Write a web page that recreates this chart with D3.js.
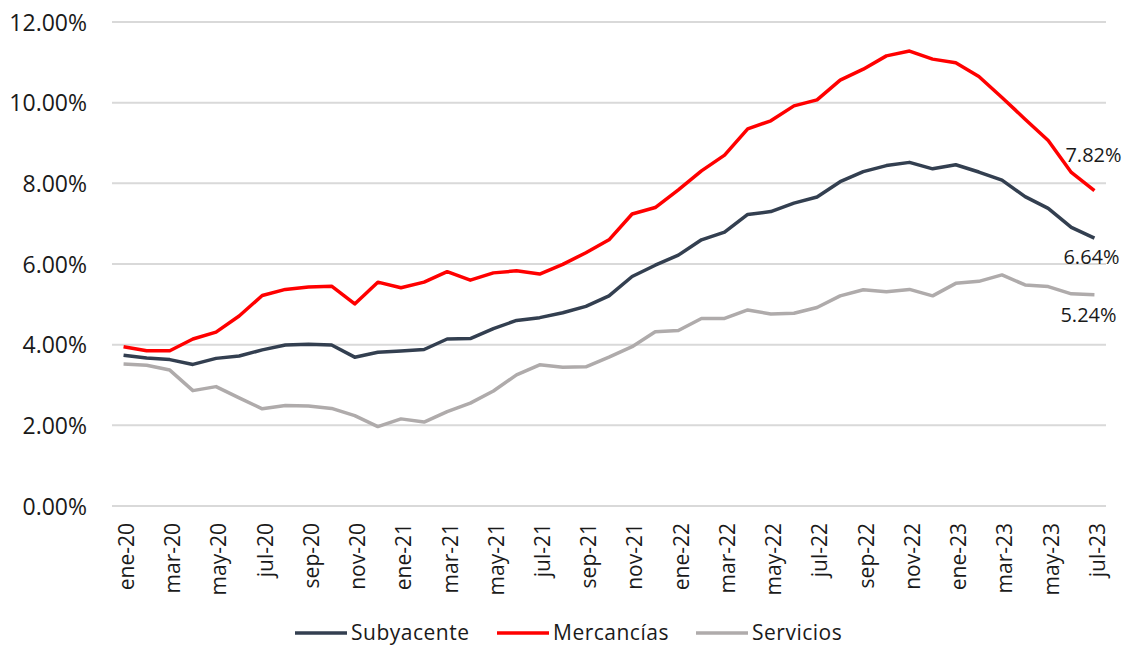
<!DOCTYPE html>
<html><head><meta charset="utf-8">
<script src="https://cdn.jsdelivr.net/npm/d3@7"></script>
<style>body{margin:0;background:#fff;} svg{display:block;font-family:"Open Sans",sans-serif;}</style>
</head><body>
<svg id="c" width="1131" height="645"></svg>
<script>
const months = ["ene","feb","mar","abr","may","jun","jul","ago","sep","oct","nov","dic"];
const categories = [];
for (let y = 20; y <= 23; y++) for (let m = 0; m < 12; m++) { if (y === 23 && m > 6) break; categories.push(months[m] + "-" + y); }

const subyacente = [3.74,3.67,3.63,3.51,3.66,3.72,3.87,3.99,4.01,3.99,3.69,3.81,3.84,3.88,4.14,4.15,4.40,4.60,4.67,4.79,4.95,5.21,5.69,5.97,6.22,6.60,6.79,7.23,7.30,7.51,7.66,8.04,8.29,8.44,8.52,8.36,8.46,8.28,8.08,7.67,7.38,6.91,6.64];
const mercancias = [3.95,3.85,3.85,4.14,4.31,4.71,5.22,5.37,5.43,5.45,5.01,5.55,5.41,5.55,5.81,5.60,5.78,5.83,5.75,5.99,6.28,6.60,7.24,7.40,7.84,8.31,8.70,9.35,9.55,9.92,10.07,10.56,10.83,11.16,11.28,11.08,10.99,10.65,10.13,9.59,9.06,8.27,7.82];
const servicios = [3.52,3.49,3.37,2.86,2.96,2.68,2.41,2.49,2.48,2.42,2.24,1.97,2.16,2.08,2.34,2.55,2.85,3.25,3.50,3.44,3.45,3.69,3.95,4.32,4.35,4.65,4.65,4.86,4.76,4.78,4.92,5.21,5.36,5.31,5.37,5.21,5.52,5.57,5.73,5.48,5.44,5.26,5.24];
const yTicks = [0,2,4,6,8,10,12];
const seriesNames = ["Subyacente","Mercancías","Servicios"];
const seriesColors = ["#333f50","#ff0000","#afabab"];
const seriesData = [subyacente, mercancias, servicios];

const svg = d3.select("#c");
const x = d3.scaleBand().domain(categories).range([112,1106]).padding(0);
const y = d3.scaleLinear().domain([0,12]).range([506,22]);
const cx = d => x(d) + x.bandwidth()/2;

// gridlines
svg.append("g").selectAll("line").data(yTicks).join("line")
  .attr("x1",112).attr("x2",1106).attr("y1",d=>y(d)).attr("y2",d=>y(d))
  .attr("stroke","#d9d9d9").attr("stroke-width",2);

// y axis
const yAxis = d3.axisLeft(y).tickValues(yTicks).tickSize(0).tickPadding(0).tickFormat(d=>d.toFixed(2)+"%");
const gy = svg.append("g").attr("transform","translate(87,0)").call(yAxis);
gy.select(".domain").remove();
gy.selectAll("text").attr("font-size",23).attr("fill","#1a1a1a").attr("font-family","Open Sans").attr("dy","0.35em");

// x axis
const xAxis = d3.axisBottom(x).tickValues(categories.filter((d,i)=>i%2===0)).tickSize(0).tickPadding(0);
const gx = svg.append("g").attr("transform","translate(0,506)").call(xAxis);
gx.select(".domain").remove();
gx.selectAll("text").attr("font-size",21).attr("fill","#1a1a1a").attr("font-family","Open Sans")
  .attr("text-anchor","end").attr("transform","translate(3,17) rotate(-90)").attr("x",0).attr("y",0).attr("dy","0.35em");

// lines
const line = d3.line().x((d,i)=>cx(categories[i])).y(d=>y(d));
[2,1,0].forEach(k=>{
  svg.append("path").datum(seriesData[k]).attr("d",line).attr("fill","none")
    .attr("stroke",seriesColors[k]).attr("stroke-width",3.5).attr("stroke-linejoin","round");
});

// end labels
const last = categories[categories.length-1];
const labelOffsets = [[-31,26],[-29,-29],[-34,27]];
seriesData.forEach((s,k)=>{
  const v = s[s.length-1];
  svg.append("text").attr("x",cx(last)+labelOffsets[k][0]).attr("y",y(v)+labelOffsets[k][1])
    .attr("font-size",20).attr("fill","#1a1a1a").text(v.toFixed(2)+"%");
});

// legend
const legX = [295,497,696];
seriesNames.forEach((n,k)=>{
  const g = svg.append("g");
  g.append("line").attr("x1",legX[k]).attr("x2",legX[k]+52).attr("y1",633).attr("y2",633)
    .attr("stroke",seriesColors[k]).attr("stroke-width",3.5);
  g.append("text").attr("x",legX[k]+56).attr("y",633).attr("dy","0.35em")
    .attr("font-size",21).attr("letter-spacing",0.5).attr("fill","#1a1a1a").text(n);
});
</script>
</body></html>
